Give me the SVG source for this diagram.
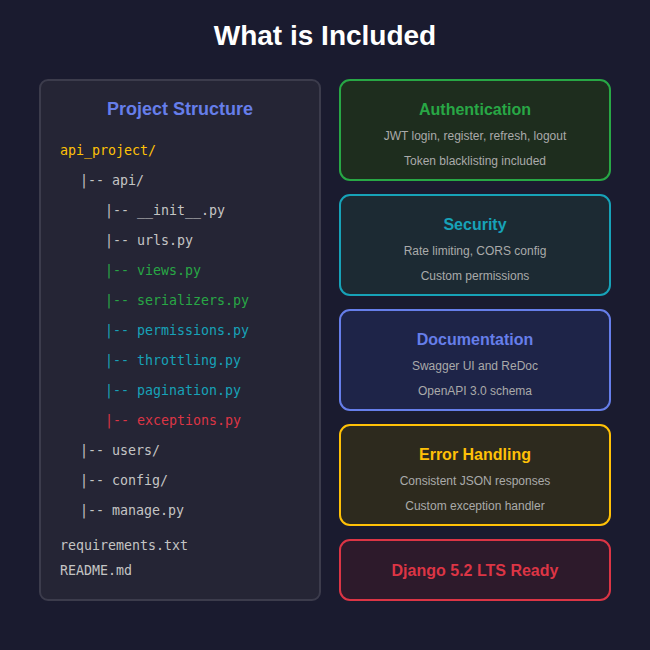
<svg xmlns="http://www.w3.org/2000/svg" width="650" height="650" viewBox="0 0 650 650">
<style>
.sans{font-family:"Liberation Sans",Arial,sans-serif}
.mono{font-family:"DejaVu Sans Mono","Liberation Mono",monospace;font-size:13.3px}
.title{font-size:28px;font-weight:bold;fill:#ffffff}
.ptitle{font-size:18px;font-weight:bold;fill:#667eea}
.ctitle{font-size:16px;font-weight:bold}
.desc{font-size:12px;fill:#aaaaaa}
.w{fill:#c4c4c4}
.g{fill:#28a745}
.c{fill:#17a2b8}
.r{fill:#dc3545}
.y{fill:#ffc107}
.box{stroke-width:2}
.tree{opacity:0.999}
</style>
<rect x="0" y="0" width="650" height="650" fill="#1a1b2f"/>
<text class="sans title" x="325" y="45" text-anchor="middle">What is Included</text>
<g id="project-structure">
<rect x="40" y="80" width="280" height="520" rx="8" fill="#252535" stroke="#3c3c4c" stroke-width="2"/>
<text class="sans ptitle" x="180" y="115" text-anchor="middle">Project Structure</text>
<g class="tree">
<text class="mono y" x="60" y="155">api_project/</text>
<text class="mono w" x="80" y="185">|-- api/</text>
<text class="mono w" x="105" y="215">|-- __init__.py</text>
<text class="mono w" x="105" y="245">|-- urls.py</text>
<text class="mono g" x="105" y="275">|-- views.py</text>
<text class="mono g" x="105" y="305">|-- serializers.py</text>
<text class="mono c" x="105" y="335">|-- permissions.py</text>
<text class="mono c" x="105" y="365">|-- throttling.py</text>
<text class="mono c" x="105" y="395">|-- pagination.py</text>
<text class="mono r" x="105" y="425">|-- exceptions.py</text>
<text class="mono w" x="80" y="455">|-- users/</text>
<text class="mono w" x="80" y="485">|-- config/</text>
<text class="mono w" x="80" y="515">|-- manage.py</text>
<text class="mono w" x="60" y="550">requirements.txt</text>
<text class="mono w" x="60" y="575">README.md</text>
</g>
</g>
<g id="authentication">
<rect class="box" x="340" y="80" width="270" height="100" rx="10" fill="#1e2d1e" stroke="#28a745"/>
<text class="sans ctitle g" x="475" y="115" text-anchor="middle">Authentication</text>
<text class="sans desc" x="475" y="140" text-anchor="middle">JWT login, register, refresh, logout</text>
<text class="sans desc" x="475" y="165" text-anchor="middle">Token blacklisting included</text>
</g>
<g id="security">
<rect class="box" x="340" y="195" width="270" height="100" rx="10" fill="#1c2a33" stroke="#17a2b8"/>
<text class="sans ctitle c" x="475" y="230" text-anchor="middle">Security</text>
<text class="sans desc" x="475" y="255" text-anchor="middle">Rate limiting, CORS config</text>
<text class="sans desc" x="475" y="280" text-anchor="middle">Custom permissions</text>
</g>
<g id="documentation">
<rect class="box" x="340" y="310" width="270" height="100" rx="10" fill="#1e2448" stroke="#667eea"/>
<text class="sans ctitle" fill="#667eea" x="475" y="345" text-anchor="middle">Documentation</text>
<text class="sans desc" x="475" y="370" text-anchor="middle">Swagger UI and ReDoc</text>
<text class="sans desc" x="475" y="395" text-anchor="middle">OpenAPI 3.0 schema</text>
</g>
<g id="error-handling">
<rect class="box" x="340" y="425" width="270" height="100" rx="10" fill="#2d2a1e" stroke="#ffc107"/>
<text class="sans ctitle y" x="475" y="460" text-anchor="middle">Error Handling</text>
<text class="sans desc" x="475" y="485" text-anchor="middle">Consistent JSON responses</text>
<text class="sans desc" x="475" y="510" text-anchor="middle">Custom exception handler</text>
</g>
<g id="django">
<rect class="box" x="340" y="540" width="270" height="60" rx="10" fill="#2d1a2b" stroke="#dc3545"/>
<text class="sans ctitle r" x="475" y="576" text-anchor="middle">Django 5.2 LTS Ready</text>
</g>
<g id="connectors"/>
</svg>
